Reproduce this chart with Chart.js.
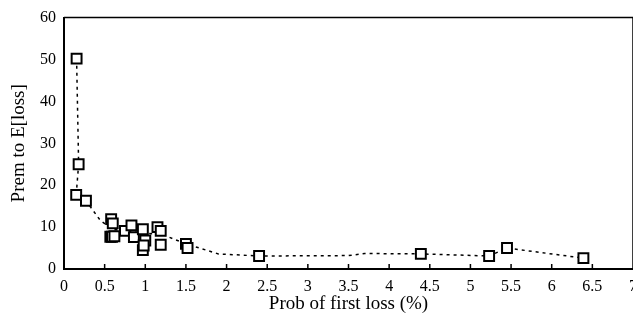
<!DOCTYPE html>
<html>
<head>
<meta charset="utf-8">
<script src="https://cdn.jsdelivr.net/npm/chart.js@4.4.1/dist/chart.umd.min.js"></script>
<style>
  html, body { margin: 0; padding: 0; background: #fff; overflow: hidden; }
  #wrap { width: 645px; height: 327px; }
</style>
</head>
<body>
<div id="wrap"><canvas id="chart" width="645" height="327"></canvas></div>
<script>
// observed points
var probX = [0.155, 0.18, 0.15, 0.27, 0.58, 0.60, 0.57, 0.59, 0.62, 0.75, 0.83, 0.86, 0.97, 1.0, 0.97, 0.98, 1.15, 1.19, 1.19, 1.5, 1.52, 2.4, 4.39, 5.23, 5.45, 6.39];
var premY = [50.2, 25.0, 17.7, 16.3, 11.9, 10.9, 7.7, 7.7, 7.8, 9.1, 10.4, 7.6, 9.5, 6.8, 4.5, 5.6, 10.0, 9.1, 5.8, 6.0, 5.0, 3.1, 3.6, 3.1, 5.0, 2.6];

// dotted trend line
var trendX = [0.155, 0.18, 0.15, 0.27, 0.45, 0.6, 0.8, 1.0, 1.2, 1.5, 1.9, 2.4, 3.5, 3.7, 4.4, 5.23, 5.45, 6.39];
var trendY = [50.2, 25, 17.7, 16.3, 11.5, 9.5, 9.0, 8.5, 8.3, 6.0, 3.6, 3.1, 3.2, 3.7, 3.6, 3.1, 5.0, 2.6];

var xTicks = [0, 0.5, 1, 1.5, 2, 2.5, 3, 3.5, 4, 4.5, 5, 5.5, 6, 6.5, 7];
var yTicks = [0, 10, 20, 30, 40, 50, 60];

var pts = [];
for (var i in probX) pts.push({ x: probX[i], y: premY[i] });
var trend = [];
for (var j in trendX) trend.push({ x: trendX[j], y: trendY[j] });

var serif = "'Liberation Serif', 'Times New Roman', serif";

// inward x tick marks + thin top/right frame
var frame = {
  id: 'frame',
  afterDatasetsDraw: function(chart) {
    var ctx = chart.ctx, xs = chart.scales.x, a = chart.chartArea;
    ctx.save();
    ctx.strokeStyle = '#000';
    ctx.lineWidth = 1.5;
    ctx.beginPath();
    xTicks.forEach(function(v) {
      var px = xs.getPixelForValue(v);
      ctx.moveTo(px, a.bottom);
      ctx.lineTo(px, a.bottom - 5);
    });
    ctx.moveTo(a.left, a.top);
    ctx.lineTo(a.right, a.top);
    ctx.lineTo(a.right, a.bottom);
    ctx.stroke();
    ctx.restore();
  }
};

new Chart(document.getElementById('chart'), {
  type: 'scatter',
  data: {
    datasets: [
      {
        label: 'points',
        data: pts,
        pointStyle: 'rect',
        pointRadius: 7,
        pointHoverRadius: 7,
        pointBackgroundColor: '#fff',
        pointBorderColor: '#000',
        pointBorderWidth: 2,
        showLine: false,
        order: 1
      },
      {
        label: 'trend',
        data: trend,
        showLine: true,
        pointRadius: 0,
        borderColor: '#000',
        borderWidth: 1.5,
        borderDash: [3, 4],
        fill: false,
        order: 2
      }
    ]
  },
  options: {
    responsive: false,
    animation: false,
    layout: { padding: { top: 17, right: 8, left: 0, bottom: 0 } },
    plugins: { legend: { display: false }, tooltip: { enabled: false } },
    scales: {
      x: {
        type: 'linear',
        min: 0, max: 7,
        afterBuildTicks: function(s) { s.ticks = xTicks.map(function(v) { return { value: v }; }); },
        afterFit: function(s) { s.height = 58; },
        grid: { display: false, drawTicks: false },
        border: { display: true, color: '#000', width: 2 },
        ticks: { color: '#000', padding: 8, maxRotation: 0, autoSkip: false,
                 callback: function(v) { return String(v); },
                 font: { family: serif, size: 16 } },
        title: { display: true, text: 'Prob of first loss (%)', color: '#000', padding: { top: 0, bottom: 12 }, font: { family: serif, size: 19 } }
      },
      y: {
        type: 'linear',
        min: 0, max: 60,
        afterBuildTicks: function(s) { s.ticks = yTicks.map(function(v) { return { value: v }; }); },
        afterFit: function(s) { s.width = 64; },
        grid: { display: false, drawTicks: false },
        border: { display: true, color: '#000', width: 2 },
        ticks: { color: '#000', padding: 8, callback: function(v) { return String(v); }, font: { family: serif, size: 16 } },
        title: { display: true, text: 'Prem to E[loss]', color: '#000', padding: { top: 8, bottom: 0 }, font: { family: serif, size: 19 } }
      }
    }
  },
  plugins: [frame]
});
</script>
</body>
</html>
